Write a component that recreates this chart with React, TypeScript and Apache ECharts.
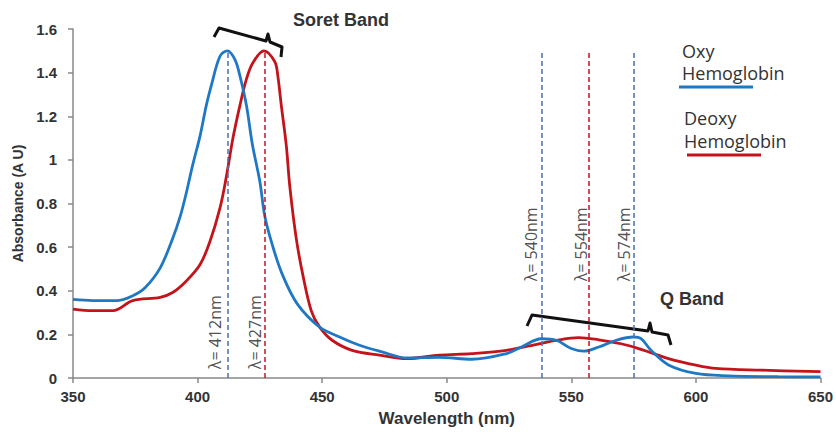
import React, { useEffect, useRef } from "react";
import * as echarts from "echarts";

// Oxy hemoglobin spectrum
const oxyWavelength = [350, 358, 368, 374, 379, 385, 390, 393, 395.5, 398, 401, 403.5, 405.5, 409, 412, 415, 417, 419.6, 422, 425, 427, 430, 434, 440, 449, 457, 465, 474, 484, 497, 510, 524, 530, 538, 544, 550, 555, 561, 568, 575, 578, 582, 589, 600, 613, 633, 650];
const oxyAbsorbance = [0.36, 0.355, 0.355, 0.377, 0.415, 0.505, 0.64, 0.74, 0.85, 0.975, 1.11, 1.25, 1.34, 1.475, 1.5, 1.46, 1.385, 1.25, 1.07, 0.9, 0.74, 0.61, 0.475, 0.34, 0.233, 0.188, 0.15, 0.12, 0.092, 0.095, 0.086, 0.112, 0.142, 0.18, 0.173, 0.135, 0.123, 0.142, 0.173, 0.188, 0.18, 0.127, 0.06, 0.021, 0.01, 0.006, 0.005];

// Deoxy hemoglobin spectrum
const deoxyWavelength = [350, 358, 366, 374, 385, 390, 395.5, 401, 405, 409, 411.5, 414.2, 417, 419.6, 422.2, 426.6, 431, 432.2, 433.6, 435.6, 437, 439.6, 442.2, 445.6, 449, 454, 462, 473, 484, 497, 510, 524, 537, 544, 553, 561, 570, 577, 581, 589, 600, 608, 626, 650];
const deoxyAbsorbance = [0.316, 0.309, 0.309, 0.355, 0.37, 0.392, 0.445, 0.52, 0.627, 0.78, 0.92, 1.1, 1.25, 1.37, 1.445, 1.5, 1.45, 1.385, 1.25, 1.066, 0.88, 0.64, 0.475, 0.309, 0.233, 0.173, 0.127, 0.105, 0.089, 0.105, 0.112, 0.127, 0.157, 0.173, 0.185, 0.175, 0.157, 0.135, 0.12, 0.089, 0.059, 0.044, 0.036, 0.029];

// Peak marker lines (drawn positions) and their labels
const oxyPeakLines = [412, 538, 575];
const deoxyPeakLines = [427, 557];
const peakLineTop = 1.5;
const peakLabels = ["λ= 412nm", "λ= 427nm", "λ= 540nm", "λ= 554nm", "λ= 574nm"];
const peakLabelX = [406.9, 422.9, 533.7, 553.7, 571.1];
const peakLabelY = [0.21, 0.21, 0.613, 0.613, 0.613];

const seriesNames = ["Oxy Hemoglobin", "Deoxy Hemoglobin"];
const xTicks = { min: 350, max: 650, interval: 50 };
const yTicks = { min: 0, max: 1.6, interval: 0.2 };

const BLUE = "#1f78c3";
const RED = "#c3141c";
const BLUE_DASH = "#4a70b8";

export default function App() {
  const ref = useRef<HTMLDivElement>(null);
  useEffect(() => {
    if (!ref.current) return;
    const chart = echarts.init(ref.current, undefined, { renderer: "svg" });
    const oxyData = oxyWavelength.map((w, i) => [w, oxyAbsorbance[i]]);
    const deoxyData = deoxyWavelength.map((w, i) => [w, deoxyAbsorbance[i]]);
    const mk = (xs: number[]) => xs.map((x) => [{ coord: [x, 0] }, { coord: [x, peakLineTop] }]);
    const labelFont = "Open Sans, sans-serif";
    const boldFont = "Liberation Sans, Arial, sans-serif";
    const txt = (text: string, x: number, y: number, font: string) => ({
      type: "text",
      x,
      y,
      silent: true,
      style: { text, font, fill: "#333", textAlign: "left", textVerticalAlign: "middle" },
    });
    chart.setOption({
      animation: false,
      backgroundColor: "#fff",
      grid: { left: 73, width: 749, top: 29, height: 352 },
      xAxis: {
        type: "value",
        min: xTicks.min,
        max: xTicks.max,
        interval: xTicks.interval,
        name: "Wavelength (nm)",
        nameLocation: "middle",
        nameGap: 32,
        nameTextStyle: { fontFamily: boldFont, fontWeight: "bold", fontSize: 17, color: "#333" },
        axisLine: { lineStyle: { color: "#888", width: 1.5 } },
        axisTick: { show: true, length: 5, lineStyle: { color: "#888", width: 1.5 } },
        axisLabel: { fontFamily: boldFont, fontWeight: "bold", fontSize: 15, color: "#333", margin: 11 },
        splitLine: { show: false },
      },
      yAxis: {
        type: "value",
        min: yTicks.min,
        max: yTicks.max,
        interval: yTicks.interval,
        name: "Absorbance (A U)",
        nameLocation: "middle",
        nameGap: 48,
        nameTextStyle: { fontFamily: boldFont, fontWeight: "bold", fontSize: 14, color: "#333" },
        axisLine: { show: true, lineStyle: { color: "#888", width: 1.5 } },
        axisTick: { show: true, length: 5, lineStyle: { color: "#888", width: 1.5 } },
        axisLabel: { fontFamily: boldFont, fontWeight: "bold", fontSize: 15, color: "#333", margin: 16 },
        splitLine: { show: false },
      },
      series: [
        {
          name: seriesNames[0],
          type: "line",
          data: oxyData,
          showSymbol: false,
          smooth: 0.35,
          lineStyle: { color: BLUE, width: 2.8 },
          itemStyle: { color: BLUE },
          z: 3,
          markLine: {
            silent: true,
            symbol: "none",
            label: { show: false },
            lineStyle: { color: BLUE_DASH, type: [5, 3], width: 1.5 },
            data: mk(oxyPeakLines),
          },
        },
        {
          name: seriesNames[1],
          type: "line",
          data: deoxyData,
          showSymbol: false,
          smooth: 0.35,
          lineStyle: { color: RED, width: 2.8 },
          itemStyle: { color: RED },
          z: 2,
          markLine: {
            silent: true,
            symbol: "none",
            label: { show: false },
            lineStyle: { color: RED, type: [5, 3], width: 1.5 },
            data: mk(deoxyPeakLines),
          },
        },
        {
          name: "labels",
          type: "scatter",
          symbolSize: 0,
          silent: true,
          data: peakLabelX.map((x, i) => ({ value: [x, peakLabelY[i]], name: peakLabels[i] })),
          label: {
            show: true,
            position: "inside",
            rotate: 90,
            formatter: (p: any) => p.name,
            fontFamily: labelFont,
            fontSize: 16,
            color: "#222",
          },
        },
      ],
      graphic: [
        txt("Soret Band", 293, 20, "bold 18px " + boldFont),
        txt("Q Band", 660, 299, "bold 18px " + boldFont),
        txt("Oxy", 682, 51, "18px " + labelFont),
        txt("Hemoglobin", 682, 73, "18px " + labelFont),
        txt("Deoxy", 684, 118, "18px " + labelFont),
        txt("Hemoglobin", 684, 141, "18px " + labelFont),
        { type: "line", silent: true, shape: { x1: 679, y1: 87, x2: 753, y2: 87 }, style: { stroke: BLUE, lineWidth: 3 } },
        { type: "line", silent: true, shape: { x1: 687, y1: 155, x2: 761, y2: 155 }, style: { stroke: RED, lineWidth: 3 } },
        {
          type: "polyline",
          silent: true,
          shape: { points: [[214, 37], [219, 28], [266, 41], [268, 34], [270, 42], [282, 47], [281, 57]] },
          style: { stroke: "#111", lineWidth: 3, fill: "none", lineJoin: "round" },
        },
        {
          type: "polyline",
          silent: true,
          shape: { points: [[527, 326], [532, 315], [648, 331], [650, 323], [652, 332], [668, 335], [671, 345]] },
          style: { stroke: "#111", lineWidth: 3, fill: "none", lineJoin: "round" },
        },
      ],
    });
    return () => chart.dispose();
  }, []);
  return <div ref={ref} style={{ position: "fixed", left: 0, top: 0, width: 836, height: 432 }} />;
}
